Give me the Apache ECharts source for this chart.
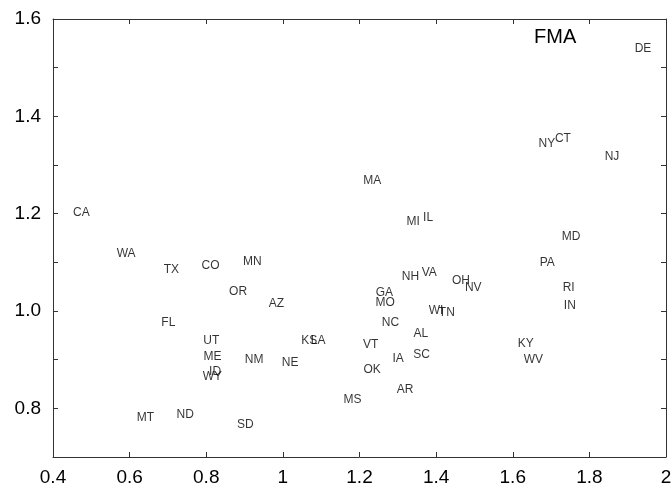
<!DOCTYPE html>
<html>
<head>
<meta charset="utf-8">
<script src="https://cdn.jsdelivr.net/npm/echarts@6/dist/echarts.min.js"></script>
<style>
  html, body { margin: 0; padding: 0; background: #fff; }
  #grafico { width: 671px; height: 491px; }
</style>
</head>
<body>
<div id="grafico"></div>
<script>
// estados e coordenadas
const estados = ['CA','WA','TX','CO','MN','OR','AZ','FL','UT','ME','ID','WY','NM','NE','KS','LA','MT','ND','SD',
  'MS','MA','OK','VT','GA','MO','NC','AR','IA','NH','MI','AL','SC','IL','VA','WI','TN','OH','NV',
  'KY','WV','NY','PA','CT','RI','IN','MD','NJ','DE'];
const valoresX = [0.474,0.591,0.709,0.811,0.920,0.883,0.983,0.701,0.813,0.816,0.823,0.816,0.925,1.019,1.069,1.092,0.641,0.745,0.902,
  1.182,1.233,1.233,1.229,1.265,1.267,1.281,1.319,1.301,1.333,1.340,1.360,1.362,1.379,1.382,1.400,1.428,1.465,1.497,
  1.634,1.654,1.689,1.690,1.731,1.746,1.749,1.752,1.859,1.940];
const valoresY = [1.203,1.117,1.084,1.094,1.101,1.039,1.014,0.975,0.938,0.907,0.875,0.866,0.899,0.893,0.938,0.940,0.780,0.786,0.766,
  0.817,1.267,0.879,0.930,1.038,1.018,0.976,0.838,0.903,1.070,1.183,0.954,0.911,1.191,1.079,1.001,0.996,1.062,1.048,
  0.932,0.899,1.343,1.099,1.355,1.048,1.011,1.152,1.318,1.540];

const grafico = echarts.init(document.getElementById('grafico'));

const fonte = 'Liberation Sans, Arial, sans-serif';
const linha = { show: true, lineStyle: { color: '#333', width: 1 } };
const tique = { show: true, inside: true, length: 5, lineStyle: { color: '#333' } };

const option = {
  animation: false,
  title: {
    text: 'FMA',
    left: 529,
    top: 22,
    textStyle: { fontFamily: fonte, fontSize: 20, fontWeight: 'normal', color: '#000' }
  },
  grid: { left: 53, right: 5, top: 19, bottom: 34, outerBoundsMode: 'none' },
  xAxis: [
    {
      type: 'value', min: 0.4, max: 2, interval: 0.2,
      axisLine: linha, axisTick: tique, splitLine: { show: false },
      axisLabel: {
        margin: 11, fontFamily: fonte, fontSize: 19, color: '#000',
        formatter: v => String(+v.toFixed(1))
      }
    },
    {
      type: 'value', position: 'top', min: 0.4, max: 2, interval: 0.2,
      axisLine: linha, axisTick: tique, splitLine: { show: false },
      axisLabel: { show: false }
    }
  ],
  yAxis: [
    {
      type: 'value', min: 0.7, max: 1.6, interval: 0.1,
      axisLine: linha, axisTick: tique, splitLine: { show: false },
      axisLabel: {
        margin: 12, fontFamily: fonte, fontSize: 19, color: '#000',
        formatter: v => (Math.round(v * 10) % 2 === 0 ? v.toFixed(1) : '')
      }
    },
    {
      type: 'value', position: 'right', min: 0.7, max: 1.6, interval: 0.1,
      axisLine: linha, axisTick: tique, splitLine: { show: false },
      axisLabel: { show: false }
    }
  ],
  series: [{
    type: 'scatter',
    symbolSize: 6,
    itemStyle: { color: 'rgba(0,0,0,0)' },
    data: estados.map((s, i) => ({ name: s, value: [valoresX[i], valoresY[i]] })),
    label: {
      show: true,
      position: 'inside',
      formatter: p => p.name,
      fontFamily: fonte,
      fontSize: 12,
      color: '#000'
    },
    labelLayout: { hideOverlap: false }
  }]
};

grafico.setOption(option);
</script>
</body>
</html>
